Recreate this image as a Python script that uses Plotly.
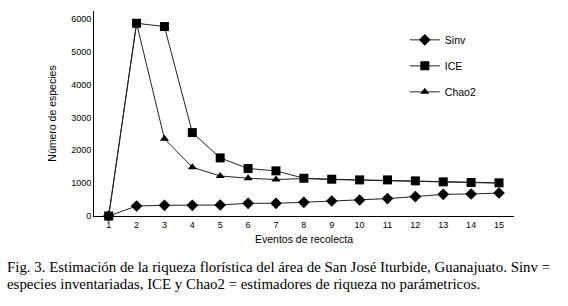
import plotly.graph_objects as go

eventos = list(range(1, 16))
sinv = [0, 305, 326, 326, 335, 387, 387, 418, 457, 488, 530, 591, 660, 670, 700]
ice = [0, 5870, 5770, 2540, 1770, 1445, 1375, 1150, 1120, 1100, 1100, 1070, 1040, 1020, 1010]
chao2 = [0, 5870, 2350, 1485, 1220, 1150, 1110, 1140, 1110, 1090, 1090, 1060, 1040, 1020, 1000]
y_ticks = [0, 1000, 2000, 3000, 4000, 5000, 6000]

line_style = dict(color="#222222", width=1)
fig = go.Figure()
fig.add_trace(go.Scatter(x=eventos, y=sinv, name="Sinv", mode="lines+markers",
                         line=line_style, marker=dict(symbol="diamond", size=9, color="black"),
                         cliponaxis=False, legendgroup="a"))
fig.add_trace(go.Scatter(x=eventos, y=ice, name="ICE", mode="lines+markers",
                         line=line_style, marker=dict(symbol="square", size=9, color="black"),
                         cliponaxis=False, legendgroup="b"))
fig.add_trace(go.Scatter(x=eventos, y=chao2, name="Chao2", mode="lines+markers",
                         line=line_style, marker=dict(symbol="triangle-up", size=8, color="black"),
                         cliponaxis=False, legendgroup="c"))

fig.update_layout(
    width=568, height=306,
    margin=dict(l=94, r=54, t=11, b=90, pad=0),
    paper_bgcolor="white", plot_bgcolor="white",
    font=dict(family="Liberation Sans, Arial, sans-serif", size=9, color="black"),
    showlegend=True,
    legend=dict(x=0.74, y=0.93, xanchor="left", yanchor="top", bgcolor="rgba(0,0,0,0)",
                font=dict(size=10.5), tracegroupgap=7, traceorder="grouped", itemwidth=30),
    xaxis=dict(range=[0.473, 15.538], tickvals=eventos, showgrid=False, zeroline=False,
               showline=True, linecolor="black", linewidth=1, ticks="",
               tickfont=dict(family="Liberation Sans Narrow, Liberation Sans, sans-serif", size=9),
               title=dict(text="Eventos de recolecta", font=dict(size=10.5), standoff=6)),
    yaxis=dict(range=[0, 6244], tickvals=y_ticks, showgrid=False, zeroline=False,
               showline=True, linecolor="black", linewidth=1, ticks="",
               tickfont=dict(family="Liberation Sans Narrow, Liberation Sans, sans-serif", size=9),
               title=dict(text="Número de especies", font=dict(size=10.5), standoff=12)),
)

caption_lines = [
    "Fig. 3. Estimación de la riqueza florística del área de San José Iturbide, Guanajuato. Sinv =",
    "especies inventariadas, ICE y Chao2 = estimadores de riqueza no parámetricos.",
]
for i, line in enumerate(caption_lines):
    fig.add_annotation(text=line, xref="paper", yref="paper", x=-89 / 420, y=(216 - 267 - 17 * i) / 205,
                       xanchor="left", yanchor="middle", showarrow=False, align="left",
                       font=dict(family="Liberation Serif, Times New Roman, serif", size=14.9, color="black"))

fig.write_html("out.html", post_script="document.body.style.margin='0px';",
               config={"displayModeBar": False})
